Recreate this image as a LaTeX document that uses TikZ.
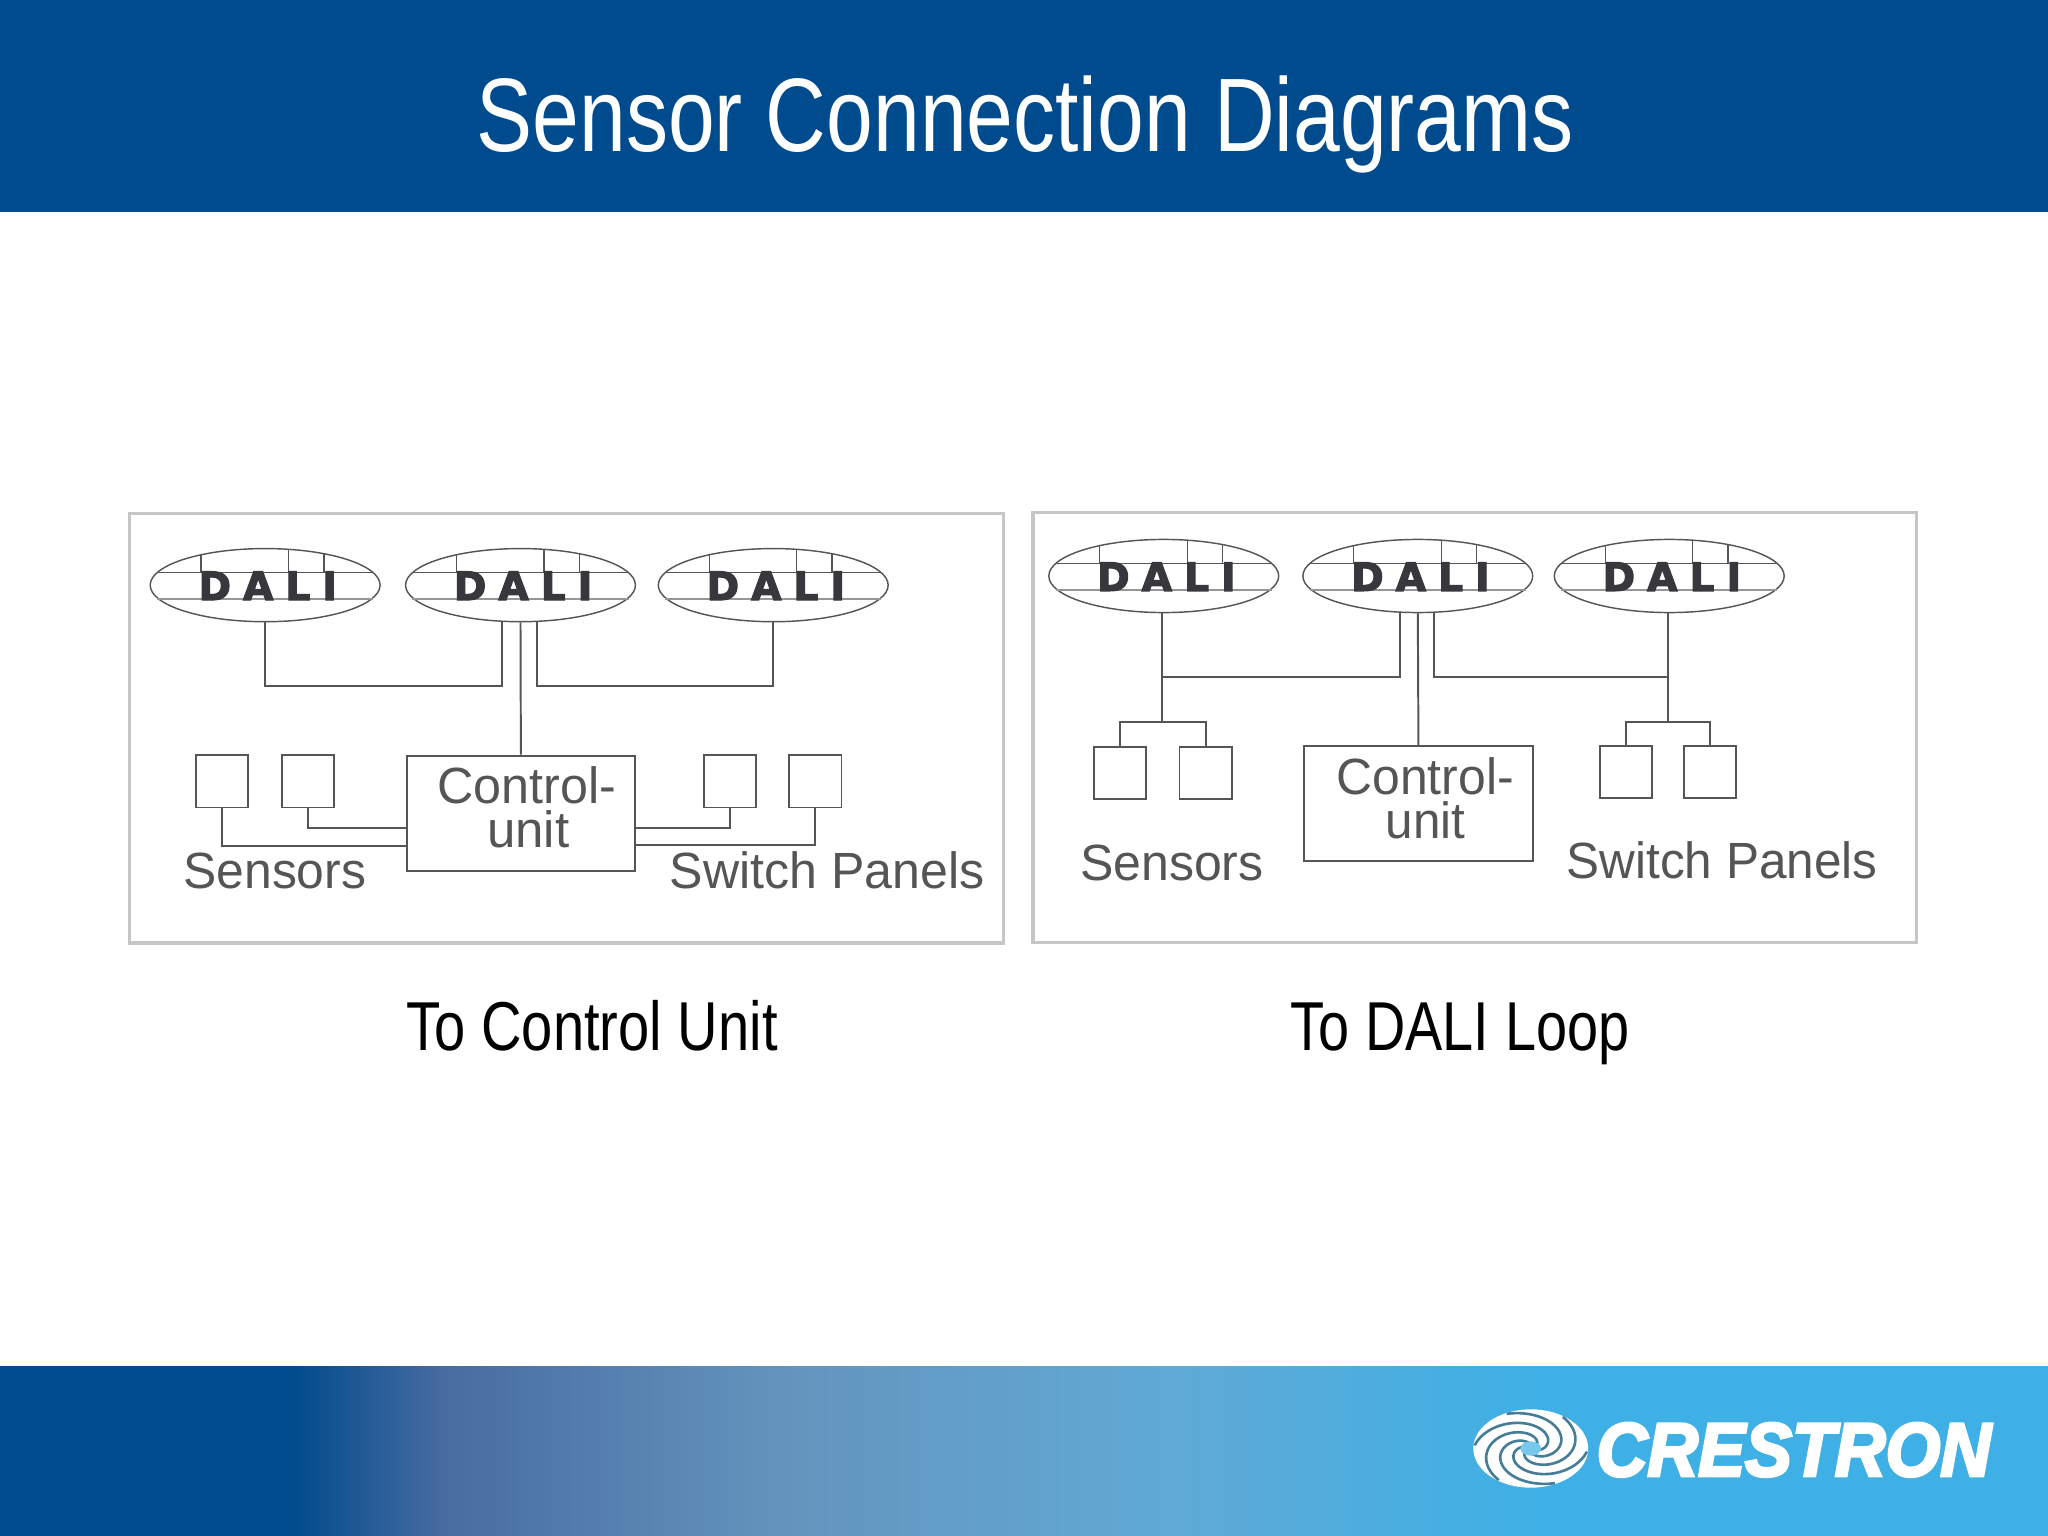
\documentclass[tikz,border=0pt]{standalone}
\usepackage{graphicx}
\usepackage{fontspec}
\setmainfont{Liberation Sans}
\newfontfamily\dalifont[BoldFeatures={FakeBold=3}]{DejaVu Sans}
\newfontfamily\logofont[BoldItalicFeatures={FakeBold=4}]{Liberation Sans}
\usetikzlibrary{shapes.geometric}
\definecolor{bandblue}{RGB}{0,75,141}
\definecolor{inkgrey}{RGB}{85,85,85}
\definecolor{chordgrey}{RGB}{150,150,150}
\definecolor{framegrey}{RGB}{198,198,198}
\definecolor{daliink}{RGB}{55,55,60}
\definecolor{g1}{RGB}{0,75,141}
\definecolor{g2}{RGB}{72,108,160}
\definecolor{g3}{RGB}{100,148,190}
\definecolor{g4}{RGB}{96,170,214}
\definecolor{g5}{RGB}{62,176,230}
\newcommand\fitw[2]{\resizebox{#1pt}{\height}{#2}}
\newcommand\dalitxt{\dalifont\bfseries\fontsize{15}{16}\selectfont\color{daliink}D\hspace{4.6pt}A\hspace{4.6pt}L\hspace{4.6pt}I}
\tikzset{
  wire/.style={draw=inkgrey,line width=0.75pt},
  frameb/.style={draw=framegrey,line width=1.2pt},
  dalie/.style={shape=ellipse,draw=inkgrey,line width=0.55pt,inner sep=0pt,minimum width=88pt,minimum height=28pt},
  unitb/.style={shape=rectangle,draw=inkgrey,line width=0.7pt,inner sep=0pt,minimum width=20pt,minimum height=20pt},
  ctrlb/.style={shape=rectangle,draw=inkgrey,line width=0.75pt,inner sep=0pt,minimum width=87.5pt,minimum height=44pt},
  lab/.style={anchor=base west,inner sep=0pt,text=inkgrey,font=\fontsize{19.5}{21}\selectfont},
  captxt/.style={anchor=base west,inner sep=0pt,text=black,font=\fontsize{26.5}{30}\selectfont}
}
\newcommand\dalimark[3]{%
  \node[dalie] (#1) at (#2,#3) {};
  \draw[wire,line width=0.5pt]
    ([shift={(-82.8,-9.5)}]#1.center) -- ([shift={(82.8,-9.5)}]#1.center)
    ([shift={(-49,-23.3)}]#1.center) -- ([shift={(-49,-9.5)}]#1.center)
    ([shift={(18,-27.4)}]#1.center) -- ([shift={(18,-9.5)}]#1.center)
    ([shift={(45,-24)}]#1.center) -- ([shift={(45,-9.5)}]#1.center);
  \draw[draw=chordgrey,line width=0.8pt]
    ([shift={(-82.8,10.5)}]#1.center) -- ([shift={(82.8,10.5)}]#1.center);
  \node[inner sep=0pt] (#1t) at ([shift={(2,0.5)}]#1.center) {\dalitxt};
}
\begin{document}
\begin{tikzpicture}[x=0.5pt,y=-0.5pt]
\useasboundingbox (0,0) rectangle (1568,1176);
\fill[white] (0,0) rectangle (1568,1176);
% bands
\fill[bandblue] (0,0) rectangle (1568,162);
\fill[g1] (0,1046) rectangle (225,1176);
\shade[left color=g1,right color=g2] (224.5,1046) rectangle (340,1176);
\shade[left color=g2,right color=g3] (339.5,1046) rectangle (600,1176);
\shade[left color=g3,right color=g4] (599.5,1046) rectangle (900,1176);
\shade[left color=g4,right color=g5] (899.5,1046) rectangle (1180,1176);
\fill[g5] (1179.5,1046) rectangle (1568,1176);
% title
\node[anchor=base west,inner sep=0pt,text=white,font=\fontsize{40}{46}\selectfont] (title) at (364.5,116) {\fitw{420}{Sensor Connection Diagrams}};
% left panel
\node[frameb,shape=rectangle,inner sep=0pt,minimum width=334.5pt,minimum height=164.5pt] (p1) at (433.5,557.5) {};
\dalimark{a1}{203}{448}
\dalimark{a2}{398.5}{448}
\dalimark{a3}{592}{448}
\node[ctrlb] (ca) at (398.8,622.5) {};
\node[unitb] (sa1) at (170,598.3) {};
\node[unitb] (sa2) at (235.7,598.3) {};
\node[unitb] (wa1) at (559,598.3) {};
\node[unitb] (wa2) at (624.2,598.3) {};
\draw[wire] (a1.south) -- ++(0,49) -| ([xshift=-7pt]a2.south);
\draw[wire] (a2.south) -- (ca.north);
\draw[wire] ([xshift=6.5pt]a2.south) -- ++(0,49) -| (a3.south);
\draw[wire] (sa1.south) |- ([yshift=-12.5pt]ca.west);
\draw[wire] (sa2.south) |- ([yshift=-5.65pt]ca.west);
\draw[wire] (wa1.south) |- ([yshift=-5.65pt]ca.east);
\draw[wire] (wa2.south) |- ([yshift=-12.25pt]ca.east);
\node[lab] (ca1) at (334.5,615.5) {\fitw{68.5}{Control-}};
\node[lab] (ca2) at (372.5,649) {\fitw{31.5}{unit}};
\node[lab] (la1) at (140,680.5) {\fitw{70}{Sensors}};
\node[lab] (la2) at (512.5,680.5) {\fitw{120.5}{Switch Panels}};
% right panel
\node[frameb,shape=rectangle,inner sep=0pt,minimum width=338.3pt,minimum height=164.5pt] (p2) at (1129.2,557) {};
\dalimark{b1}{891}{441}
\dalimark{b2}{1085.5}{441}
\dalimark{b3}{1278}{441}
\node[ctrlb] (cb) at (1086,615.5) {};
\node[unitb] (sb1) at (857.5,591.7) {};
\node[unitb] (sb2) at (923,591.7) {};
\node[unitb] (wb1) at (1244.7,591) {};
\node[unitb] (wb2) at (1309,591) {};
\coordinate (fa) at (890,552.5);
\coordinate (fb) at (1277,552.5);
\coordinate (ja) at (890,518);
\coordinate (jb) at (1277,518);
\draw[wire] ([xshift=-0.5pt]b1.south) -- (fa);
\draw[wire] (ja) -| ([xshift=-6.9pt]b2.south);
\draw[wire] (b2.south) -- (cb.north);
\draw[wire] ([xshift=6.3pt]b2.south) |- (jb);
\draw[wire] ([xshift=-0.5pt]b3.south) -- (fb);
\draw[wire] (sb1.north) |- (fa) -| (sb2.north);
\draw[wire] (wb1.north) |- (fb) -| (wb2.north);
\node[lab] (cb1) at (1022.6,608.5) {\fitw{68}{Control-}};
\node[lab] (cb2) at (1060.5,642) {\fitw{30.5}{unit}};
\node[lab] (lb1) at (826.5,674) {\fitw{70.3}{Sensors}};
\node[lab] (lb2) at (1199,672.5) {\fitw{119}{Switch Panels}};
% captions
\node[captxt] (c1) at (311,804) {\fitw{142}{To Control Unit}};
\node[captxt] (c2) at (988,804) {\fitw{129.5}{To DALI Loop}};
% logo
\fill[white] (1172,1109) ellipse [x radius=44,y radius=30];
\foreach \a in {0,60,...,300}{
  \draw[black!30!g5!70!gray,line width=1pt,shift={(1172,1109)}]
    plot[domain=0.12:0.98,samples=30,smooth] ({44*\x*cos(\a+230*(1-\x))},{30*\x*sin(\a+230*(1-\x))});
}
\fill[g5!70!white] (1172,1109) ellipse [x radius=8,y radius=5.5];
\node[anchor=base west,inner sep=0pt,text=white] (logo) at (1222,1130)
  {\fitw{151}{\logofont\bfseries\itshape\fontsize{29}{32}\selectfont CRESTRON}};
\end{tikzpicture}
\end{document}
